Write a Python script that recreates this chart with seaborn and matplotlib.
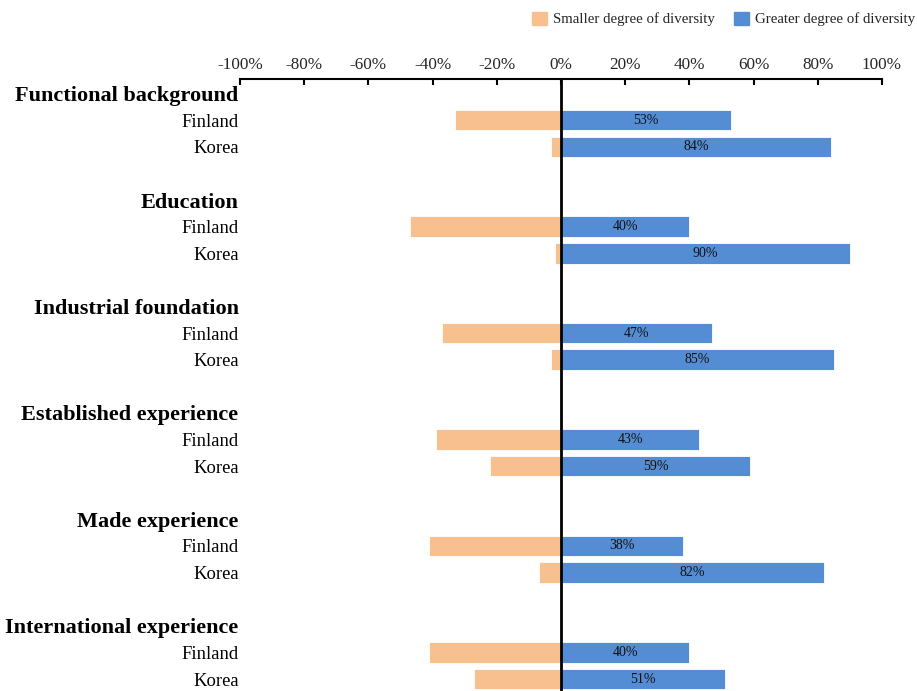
import numpy as np
import pandas as pd
import matplotlib
matplotlib.use("Agg")
import matplotlib.pyplot as plt
import matplotlib.patches as mpatches
import seaborn as sns

groups = ["Functional background", "Education", "Industrial foundation",
          "Established experience", "Made experience", "International experience"]
countries = ["Finland", "Korea"]
greater = [53, 84, 40, 90, 47, 85, 43, 59, 38, 82, 40, 51]
smaller = [33, 3, 47, 2, 37, 3, 39, 22, 41, 7, 41, 27]
xticks = [-100, -80, -60, -40, -20, 0, 20, 40, 60, 80, 100]
xtick_labels = ["-100%", "-80%", "-60%", "-40%", "-20%", "0%", "20%", "40%", "60%", "80%", "100%"]

ORANGE = "#F8C08F"
BLUE = "#558DD5"

sns.set_theme(style="white")
plt.rcParams["font.family"] = ["Liberation Serif", "DejaVu Serif"]

rows = []
ytick_pos, ytick_lab, ytick_bold = [], [], []
k = 0
for gi, g in enumerate(groups):
    ytick_pos.append(4 * gi); ytick_lab.append(g); ytick_bold.append(True)
    for ci, c in enumerate(countries):
        pos = 4 * gi + 1 + ci
        ytick_pos.append(pos); ytick_lab.append(c); ytick_bold.append(False)
        rows.append(dict(pos=pos, greater=greater[k], smaller=-smaller[k]))
        k += 1
df = pd.DataFrame(rows)

fig = plt.figure(figsize=(9.17, 6.91), dpi=100)
W, H = 917, 691
ax = fig.add_axes([240 / W, 0, (882 - 240) / W, (691 - 79) / H])

sns.barplot(data=df, x="smaller", y="pos", orient="h", native_scale=True,
            color=ORANGE, saturation=1, width=0.77, edgecolor="white",
            linewidth=0.6, ax=ax, errorbar=None)
sns.barplot(data=df, x="greater", y="pos", orient="h", native_scale=True,
            color=BLUE, saturation=1, width=0.77, edgecolor="white",
            linewidth=0.6, ax=ax, errorbar=None)

blue_cont = ax.containers[-1]
ax.bar_label(blue_cont, labels=[f"{v}%" for v in df["greater"]],
             label_type="center", fontsize=10, color="#111111")

ax.axvline(0, color="black", lw=2, zorder=5)

ax.set_xlim(-100, 100)
ax.set_ylim(22.45, -0.55)
ax.xaxis.tick_top()
ax.set_xticks(xticks)
ax.set_xticklabels(xtick_labels, fontsize=12.3)
ax.tick_params(axis="x", direction="in", length=4.5, width=1.5, color="black",
               pad=4, top=True, bottom=False)
ax.set_yticks(ytick_pos)
ax.set_yticklabels(ytick_lab)
for lab, b in zip(ax.get_yticklabels(), ytick_bold):
    if b:
        lab.set_fontweight("bold")
        lab.set_fontsize(16)
    else:
        lab.set_fontsize(13.4)
    lab.set_color("black")
ax.tick_params(axis="y", length=0, pad=1)
ax.set_xlabel("")
ax.set_ylabel("")
for s in ["left", "right", "bottom"]:
    ax.spines[s].set_visible(False)
ax.spines["top"].set_linewidth(1.5)
ax.spines["top"].set_color("black")

handles = [mpatches.Patch(color=ORANGE, label="Smaller degree of diversity"),
           mpatches.Patch(color=BLUE, label="Greater degree of diversity")]
fig.legend(handles=handles, loc="center right",
           bbox_to_anchor=(915 / W, 1 - 19 / H),
           ncol=2, frameon=False, fontsize=10.7, handlelength=1.0,
           handleheight=1.0, handletextpad=0.4, columnspacing=1.3,
           borderaxespad=0, borderpad=0)

fig.savefig("out.png", dpi=100)
